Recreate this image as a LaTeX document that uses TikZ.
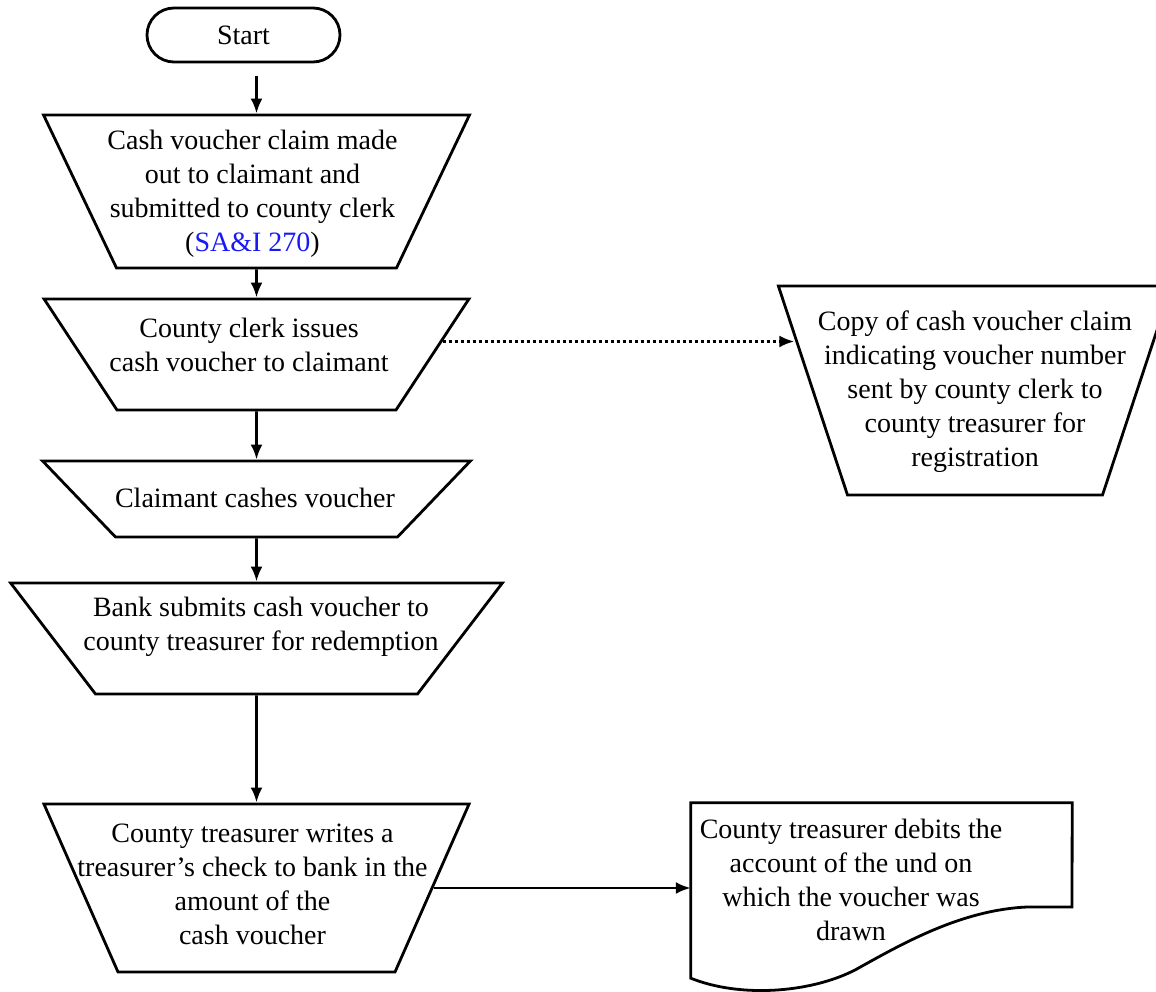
\documentclass[tikz,border=0pt]{standalone}
\usepackage{fontspec}
\setmainfont{Liberation Serif}
\usepackage{tikz}
\usetikzlibrary{arrows.meta, shapes.geometric, positioning, calc}
\definecolor{refblue}{RGB}{25,25,245}
\newcommand{\flowfont}{\fontsize{28}{34}\selectfont}
\tikzset{
	terminal/.style={draw, rounded corners=27pt, minimum width=193pt, minimum height=54pt, line width=2.8pt, font=\flowfont},
	trap/.style={trapezium, draw, shape border rotate=180, inner sep=0pt, text depth=0pt, line width=2.8pt},
	txt/.style={align=center, inner sep=0pt, font=\flowfont},
	line/.style={draw, line width=2.8pt, -{Latex[length=15pt,width=12pt]}},
	dotline/.style={line, dash pattern=on 3pt off 3pt}
}

\begin{document}
\begin{tikzpicture}[x=1pt, y=-1pt]
	\useasboundingbox[fill=white] (0,0) rectangle (1156,992);
	% Start
	\node[terminal] (st) at (243.5,35) {Start};
	
	% Main column
	\node[trap, trapezium angle=64.5, text width=280pt, text height=153pt] (b1) at (256.5,191.5) {};
	\node[trap, trapezium angle=56.7, text width=279pt, text height=111pt] (b2) at (256.5,354.5) {};
	\node[trap, trapezium angle=46.2, text width=282pt, text height=76pt] (b3) at (256.5,499) {};
	\node[trap, trapezium angle=52.6, text width=322pt, text height=111pt] (b4) at (256.5,638.5) {};
	\node[trap, trapezium angle=66.2, text width=277pt, text height=168pt] (b5) at (256.5,888) {};
	
	\node[txt] (t1) at (252.5,194) {Cash voucher claim made\\out to claimant and\\submitted to county clerk\\(\textcolor{refblue}{SA\&I 270})};
	\node[txt] (t2) at (249,344.5) {County clerk issues\\cash voucher to claimant};
	\node[txt] (t3) at (255,498) {Claimant cashes voucher};
	\node[txt] (t4) at (261,626.5) {Bank submits cash voucher to\\county treasurer for redemption};
	\node[txt] (t5) at (252.5,884) {County treasurer writes a\\treasurer's check to bank in the\\amount of the\\cash voucher};
	
	% Right side
	\node[trap, trapezium angle=71.7, text width=255pt, text height=209pt] (bR) at (975,390.5) {};
	\node[txt] (tR) at (975,392) {Copy of cash voucher claim\\indicating voucher number\\sent by county clerk to\\county treasurer for\\registration};
	
	\node[minimum width=381pt, minimum height=175pt, inner sep=0pt] (dc) at (881.5,890.5) {};
	\draw[line width=2.8pt] (dc.south west) -- (dc.north west) -- (dc.north east) -- (1072,907) -- (1027,907)
		.. controls (960,910) and (900,945) .. (855,970)
		.. controls (810,993) and (740,998) .. (dc.south west) -- cycle;
	\node[txt] (td) at (851,880) {County treasurer debits the\\account of the und on\\which the voucher was\\drawn};
	
	% Connections
	\draw[line, shorten <=13pt] (st.south -| b1.north) -- (b1.north);
	\foreach \a/\b in {b1/b2, b2/b3, b3/b4, b4/b5}
	\draw[line] (\a.south) -- (\b.north);
	\draw[dotline] (b2.4) -- (b2.4 -| bR.164);
	\draw[line] (b5.east) -- (b5.east -| dc.west);
\end{tikzpicture}
\end{document}
